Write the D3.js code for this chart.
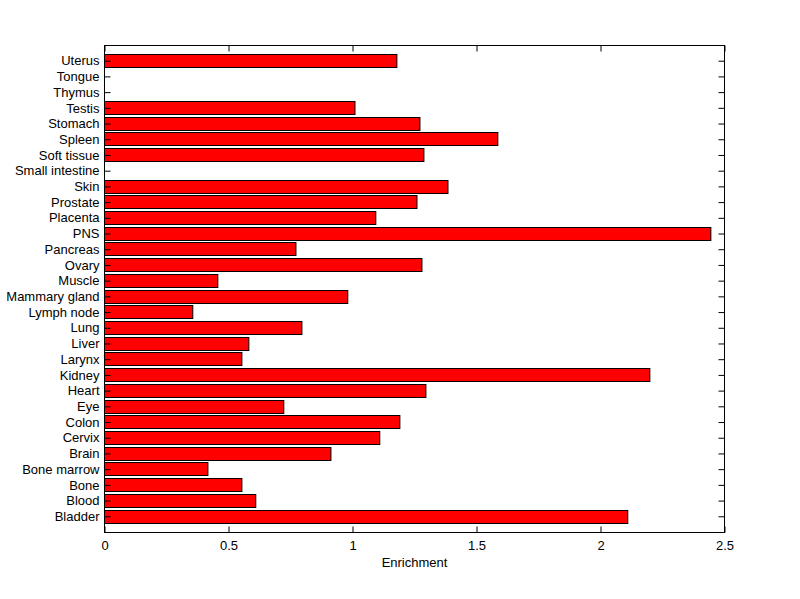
<!DOCTYPE html>
<html>
<head>
<meta charset="utf-8">
<script src="https://cdn.jsdelivr.net/npm/d3@7"></script>
<style>
html,body{margin:0;padding:0;background:#fff;}
svg{display:block;}
text{font-family:"Liberation Sans",Arial,sans-serif;}
</style>
</head>
<body>
<svg id="chart" width="800" height="599"></svg>
<script>
// Categories listed bottom to top
const categories = ["Bladder","Blood","Bone","Bone marrow","Brain","Cervix","Colon","Eye","Heart","Kidney","Larynx","Liver","Lung","Lymph node","Mammary gland","Muscle","Ovary","Pancreas","PNS","Placenta","Prostate","Skin","Small intestine","Soft tissue","Spleen","Stomach","Testis","Thymus","Tongue","Uterus"];
const enrichment = [2.110,0.610,0.554,0.417,0.913,1.110,1.191,0.723,1.296,2.199,0.554,0.582,0.796,0.356,0.981,0.457,1.280,0.772,2.445,1.094,1.260,1.385,0,1.288,1.586,1.272,1.010,0,0,1.179];
const xTicks = [0,0.5,1,1.5,2,2.5];
const xLabel = "Enrichment";

const data = categories.map((c,i)=>({cat:c, v:enrichment[i]}));

const L = 104.5, R = 724.5, T = 45.5, B = 532.5;
const svg = d3.select("#chart");

const x = d3.scaleLinear().domain([0,2.5]).range([L,R]);
const y = d3.scaleBand().domain(categories).range([B,T]).paddingInner(0.2).paddingOuter(0.6);

// bars
svg.append("g").selectAll("rect").data(data.filter(d=>d.v>0)).join("rect")
  .attr("x", x(0))
  .attr("y", d=>Math.round(y(d.cat))-0.5)
  .attr("width", d=>x(d.v)-x(0))
  .attr("height", Math.round(y.bandwidth()))
  .attr("fill","#ff0000")
  .attr("stroke","#000")
  .attr("stroke-width",1);

const fs = "13px";
// bottom axis
const gb = svg.append("g").attr("transform",`translate(0,${B})`)
  .call(d3.axisBottom(x).tickValues(xTicks).tickFormat(d3.format("")).tickSizeInner(-6).tickSizeOuter(0).tickPadding(8));
gb.selectAll("text").attr("font-size",fs).attr("fill","#000").attr("dy","0.71em");
// top axis
svg.append("g").attr("transform",`translate(0,${T})`)
  .call(d3.axisTop(x).tickValues(xTicks).tickFormat("").tickSizeInner(-6).tickSizeOuter(0));
// left axis
const gl = svg.append("g").attr("transform",`translate(${L},0)`)
  .call(d3.axisLeft(y).tickSizeInner(-6).tickSizeOuter(0).tickPadding(5));
gl.selectAll("text").attr("font-size",fs).attr("fill","#000");
// right axis
svg.append("g").attr("transform",`translate(${R},0)`)
  .call(d3.axisRight(y).tickFormat("").tickSizeInner(-6).tickSizeOuter(0));

svg.selectAll(".domain").remove();
svg.selectAll(".tick line").attr("stroke","#000");

// box
svg.append("rect").attr("x",L).attr("y",T).attr("width",R-L).attr("height",B-T)
  .attr("fill","none").attr("stroke","#000").attr("stroke-width",1);

svg.append("text").attr("x",(L+R)/2).attr("y",567).attr("text-anchor","middle")
  .attr("font-size",fs).attr("fill","#000").text(xLabel);
</script>
</body>
</html>
